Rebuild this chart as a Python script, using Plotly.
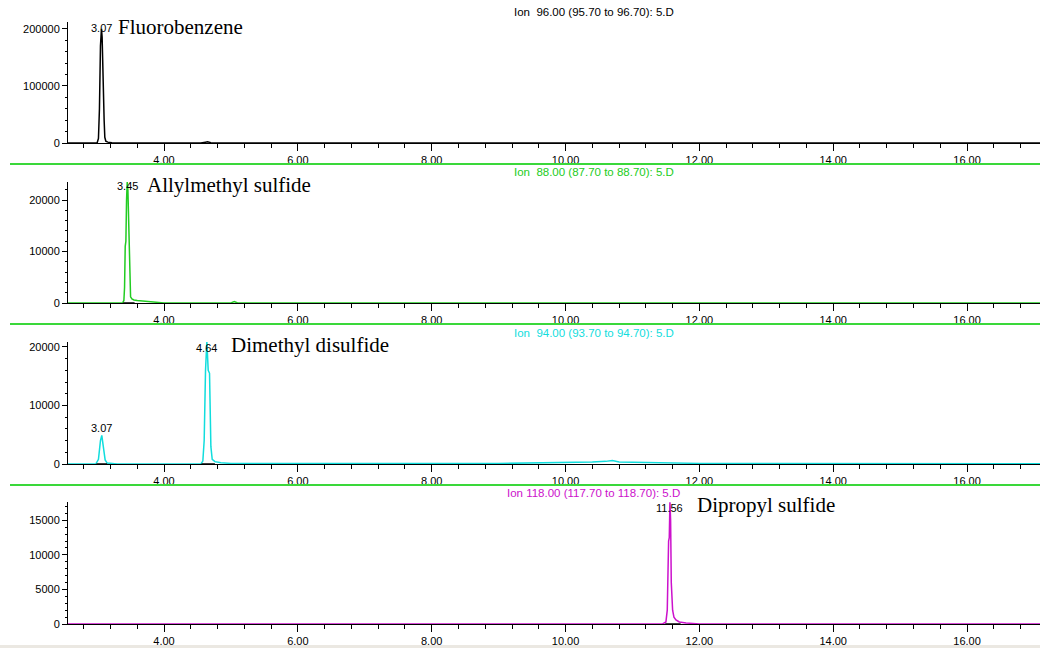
import plotly.graph_objects as go

W, H = 1040, 648

# ---------------- data ----------------
ion_labels = [
    "Ion\u00a0\u00a096.00 (95.70 to 96.70): 5.D",
    "Ion\u00a0\u00a088.00 (87.70 to 88.70): 5.D",
    "Ion\u00a0\u00a094.00 (93.70 to 94.70): 5.D",
    "Ion 118.00 (117.70 to 118.70): 5.D",
]
compounds = ["Fluorobenzene", "Allylmethyl sulfide", "Dimethyl disulfide", "Dipropyl sulfide"]

t1 = [2.565, 2.90, 3.00, 3.02, 3.035, 3.05, 3.065, 3.075, 3.085, 3.095, 3.105, 3.115, 3.13, 3.16, 3.22, 3.35,
      4.55, 4.62, 4.65, 4.70, 4.80, 17.09]
i1 = [0, 0, 0, 8000, 60000, 170000, 200000, 185000, 120000, 80000, 40000, 10000, 3000, 1500, 500, 0,
      0, 1500, 2000, 600, 0, 0]

t2 = [2.565, 3.38, 3.40, 3.41, 3.42, 3.43, 3.44, 3.45, 3.46, 3.47, 3.48, 3.49, 3.50, 3.52, 3.55, 3.60,
      3.70, 3.80, 3.90, 4.00, 5.00, 5.05, 5.10, 17.09]
i2 = [0, 0, 500, 3000, 11000, 12000, 20000, 23500, 22000, 15000, 8000, 3000, 1200, 800, 600, 500,
      350, 250, 100, 0, 0, 300, 0, 0]

t3 = [2.565, 2.98, 3.02, 3.05, 3.07, 3.09, 3.12, 3.15, 3.30, 4.55, 4.58, 4.60, 4.62, 4.64, 4.66, 4.68,
      4.70, 4.72, 4.76, 4.85, 5.00, 9.00, 9.50, 10.00, 10.40, 10.60, 10.70, 10.80, 11.00, 11.40, 11.70,
      12.00, 17.09]
i3 = [0, 0, 800, 4000, 4900, 3000, 700, 150, 0, 0, 500, 4000, 16000, 21000, 16000, 15500,
      3000, 800, 400, 200, 100, 80, 150, 250, 350, 450, 600, 350, 300, 300, 250,
      100, 50]

t4 = [2.565, 11.45, 11.50, 11.52, 11.54, 11.55, 11.56, 11.57, 11.58, 11.59, 11.60, 11.62, 11.65, 11.70,
      11.80, 12.00, 17.09]
i4 = [0, 0, 300, 2000, 12000, 12500, 17600, 15000, 6000, 3500, 2000, 1000, 600, 300,
      150, 0, 0]

# integration baselines (black marks under peaks)
base2_t = [3.39, 3.56]
base3a_t = [2.99, 3.15]
base3b_t = [4.56, 4.76]
base4_t = [11.49, 11.72]
zero_pair = [0, 0]

# peak retention-time labels: (panel, time, text)
peak_labels = [(1, 3.07, "3.07"), (2, 3.45, "3.45"), (3, 4.64, "4.64"), (3, 3.07, "3.07"), (4, 11.56, "11.56")]

x_range = [2.565, 17.09]
y_ranges = [[0, 212000], [0, 23500], [0, 20850], [0, 17650]]
y_dticks = [100000, 10000, 10000, 5000]
y_minor = [20000, 2000, 2000, 1000]
colors = ["#000000", "#22cc22", "#11dddd", "#cc11cc"]

# ---------------- layout helpers ----------------
def py(p):
    return 1 - p / H

def px(p):
    return p / W

panel_pix = [(143, 22), (303, 182), (464, 342), (624, 502)]  # (zero line, top) pixel rows
x_dom = [px(68), 1.0]

fig = go.Figure()

series = [(t1, i1), (t2, i2), (t3, i3), (t4, i4)]
for k, (tt, ii) in enumerate(series):
    n = "" if k == 0 else str(k + 1)
    fig.add_trace(go.Scatter(x=tt, y=ii, mode="lines", line=dict(color=colors[k], width=1.5),
                             xaxis="x" + n, yaxis="y" + n, hoverinfo="x+y"))

for k, bt in [(1, base2_t), (2, base3a_t), (2, base3b_t), (3, base4_t)]:
    n = str(k + 1)
    fig.add_trace(go.Scatter(x=bt, y=zero_pair, mode="lines", line=dict(color="black", width=1.5),
                             xaxis="x" + n, yaxis="y" + n, hoverinfo="skip"))

tickfont = dict(family="Liberation Sans, Arial, sans-serif", size=11, color="black")
layout = dict(
    width=W, height=H, margin=dict(l=0, r=0, t=0, b=0, autoexpand=False),
    plot_bgcolor="white", paper_bgcolor="white", showlegend=False,
)
for k in range(4):
    n = "" if k == 0 else str(k + 1)
    z, top = panel_pix[k]
    layout["xaxis" + n] = dict(
        domain=x_dom, range=x_range, anchor="y" + n, showline=True, linecolor="black", linewidth=1,
        ticks="outside", ticklen=7, tickcolor="black", tick0=0, dtick=2, tickformat=".2f",
        minor=dict(dtick=0.4, tick0=0, ticks="outside", ticklen=4, tickcolor="black"),
        showgrid=False, zeroline=False, tickfont=tickfont, fixedrange=True,
    )
    layout["yaxis" + n] = dict(
        domain=[py(z), py(top)], range=y_ranges[k], anchor="x" + n, showline=True, linecolor="black",
        linewidth=1, ticks="outside", ticklen=5, tickcolor="black", dtick=y_dticks[k], tickformat="d",
        minor=dict(dtick=y_minor[k], ticks="outside", ticklen=2, tickcolor="black"),
        showgrid=False, zeroline=False, tickfont=tickfont, fixedrange=True,
    )
fig.update_layout(**layout)

shapes = []
for yy in [164, 324, 485]:
    shapes.append(dict(type="line", xref="paper", yref="paper", x0=px(10), x1=1, y0=py(yy), y1=py(yy),
                       line=dict(color="#3ad83a", width=2)))
shapes.append(dict(type="rect", xref="paper", yref="paper", x0=0, x1=1, y0=0, y1=py(645),
                   fillcolor="#ebe8e2", line=dict(width=0), layer="below"))
fig.update_layout(shapes=shapes)

annotations = []
# ion headers
hdr_pos = [(594, 12), (594, 172), (594, 333), (593, 493)]
for k in range(4):
    hx, hy = hdr_pos[k]
    annotations.append(dict(text=ion_labels[k], xref="paper", yref="paper", x=px(hx), y=py(hy),
                            showarrow=False, xanchor="center", yanchor="middle",
                            font=dict(family="Liberation Sans, Arial, sans-serif", size=11.5,
                                      color=colors[k])))
# peak labels
label_rows = {(1, "3.07"): 28, (2, "3.45"): 186, (3, "4.64"): 348, (3, "3.07"): 428, (4, "11.56"): 508}
for panel, tval, txt in peak_labels:
    n = "" if panel == 1 else str(panel)
    annotations.append(dict(text=txt, xref="x" + n, yref="paper", x=tval, y=py(label_rows[(panel, txt)]),
                            showarrow=False, xanchor="center", yanchor="middle",
                            font=dict(family="Liberation Sans, Arial, sans-serif", size=11, color="black")))
# compound names
name_pos = [(116, 27), (145, 185), (229, 345), (695, 505)]
for k in range(4):
    nx, ny = name_pos[k]
    annotations.append(dict(text=compounds[k], xref="paper", yref="paper", x=px(nx), y=py(ny),
                            showarrow=False, xanchor="left", yanchor="middle",
                            font=dict(family="Liberation Serif, Times New Roman, serif", size=21,
                                      color="black")))
fig.update_layout(annotations=annotations)

fig.write_html("out.html", config={"displayModeBar": False},
               post_script="document.body.style.margin='0';document.body.style.overflow='hidden';")
